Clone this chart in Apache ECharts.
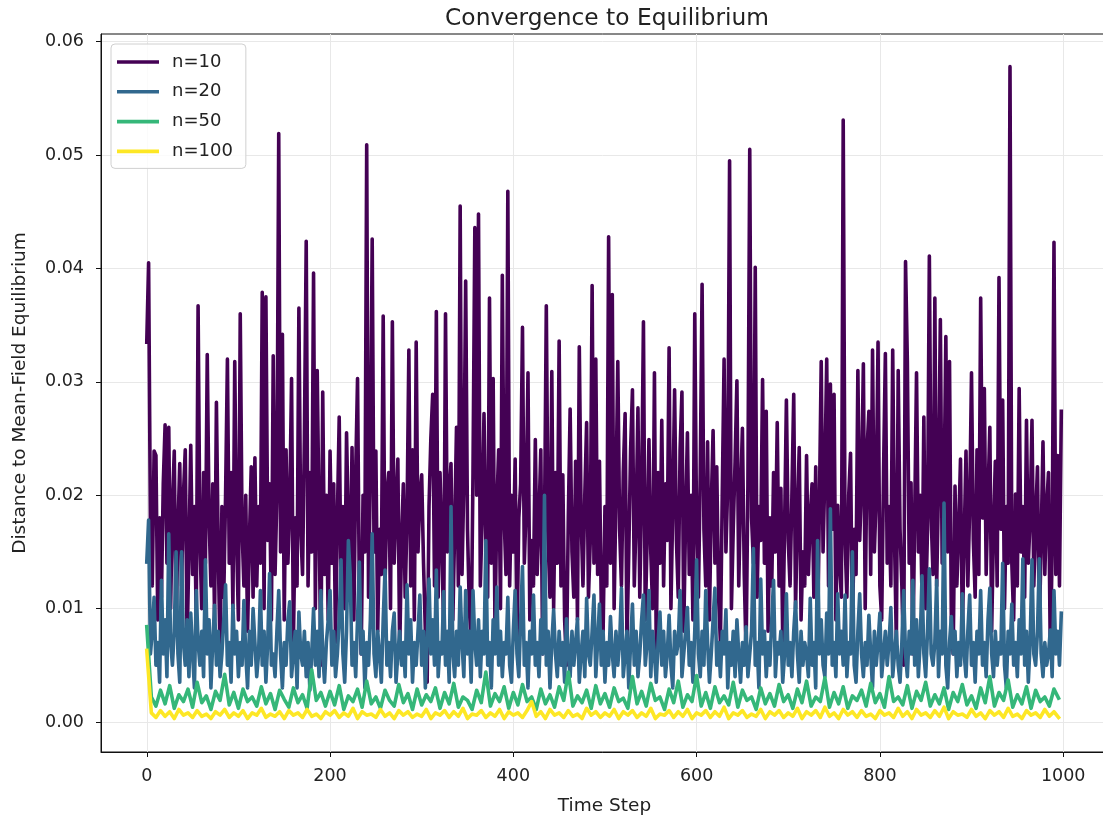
<!DOCTYPE html>
<html>
<head>
<meta charset="utf-8">
<title>Convergence to Equilibrium</title>
<script src="https://cdn.jsdelivr.net/npm/echarts@6/dist/echarts.min.js"></script>
<style>
  html, body { margin: 0; padding: 0; background: #fff; }
  #chart { width: 1103px; height: 817px; }
</style>
</head>
<body>
<div id="chart"></div>
<script>
// distances are stored in units of 1e-3, the axis labels convert back
const seriesNames = ['n=10', 'n=20', 'n=50', 'n=100']
const seriesColors = ['#440154', '#31688e', '#35b779', '#fde725']

// n=10 and n=20: one value every 2 time steps (0, 2, ..., 998), 25 per row = 50 steps
const n10 = [
  33.5, 40.5, 17, 12, 23.9, 23.5, 9, 18, 11, 21, 26.2, 14, 26, 10, 19, 23.9, 8, 17, 22.8, 12, 20, 24, 7, 15, 24.4,
  13, 19, 9, 36.7, 16, 10, 22, 14, 32.4, 18, 12, 21, 9, 28.2, 15, 6, 19, 11, 20, 32, 14, 22, 10, 31.8, 16,
  9, 36, 17, 12, 20, 8, 16, 22.5, 11, 23.3, 12, 19, 14, 37.9, 10, 37.5, 16, 21, 9, 32.3, 13, 20, 51.9, 15, 34.2,
  9, 24, 14, 19, 30.3, 7, 18, 12, 36.5, 17, 13, 25, 42.4, 12, 22, 15, 39.6, 10, 31, 18, 5, 29.1, 13, 20, 9,
  23.9, 14, 21, 7, 18, 26.9, 12, 19, 10, 25.5, 17, 13, 24.2, 9, 22, 30.3, 11, 6, 20, 15, 50.9, 11, 22, 42.6, 15,
  23.9, 8, 17, 13, 35.8, 12, 20, 22, 10, 35.3, 14, 19, 23.2, 6, 16, 21, 11, 18, 32.8, 12, 24, 9, 33.5, 15, 20,
  21.8, 14, 8, 3.5, 19, 25, 28.9, 12, 36.2, 11, 22, 16, 8, 36, 15, 20, 22.8, 9, 17, 26, 12, 45.5, 13, 21, 38.9,
  17, 10, 7, 22, 43.6, 20, 44.8, 12, 18, 27.2, 16, 11, 37.4, 14, 30.3, 8, 19, 24, 10, 39.4, 18, 13, 46.8, 12, 20,
  15, 23.2, 7, 18, 21, 34.8, 14, 19, 30.8, 9, 16, 12, 24.9, 13, 18, 24, 6, 17, 36.7, 16, 11, 30.9, 10, 22, 14,
  33.6, 12, 21.8, 9, 5, 18, 27.6, 15, 11, 23, 9, 33.1, 18, 12, 20, 26.4, 11, 16, 38.5, 14, 32, 13, 23, 10, 8,
  19, 12, 42.8, 14, 37.7, 10, 20, 31.8, 17, 12, 22, 27.2, 7, 15, 24, 29.3, 12, 18, 27.7, 11, 20, 35.3, 9, 16, 24.9,
  15, 10, 30.8, 6, 22, 14, 26.6, 12, 21, 16, 33, 10, 19, 29.3, 16, 11, 24, 29.1, 8, 18, 25.5, 13, 20, 9, 36,
  17, 11, 22, 38.6, 17, 12, 24.7, 9, 19, 25.7, 14, 22.5, 11, 7, 20, 32, 15, 21, 49.5, 10, 17, 23, 30.1, 12, 20,
  25.9, 13, 6, 21, 50.5, 18, 14, 40.1, 11, 19, 16, 30.2, 14, 27.4, 8, 18, 12, 22, 15, 26.4, 12, 20.6, 7, 17, 28.4,
  16, 12, 20, 28.9, 10, 18, 24.2, 9, 15, 12, 23.5, 13, 18, 21, 11, 22.5, 7, 19, 31.8, 15, 22, 32, 12, 29.8, 17,
  28.9, 9, 19.1, 14, 11, 53.1, 16, 11, 20, 23.7, 8, 17, 13, 31, 16, 21, 31.6, 10, 24, 27.4, 13, 32.8, 15, 20, 33.5,
  12, 9, 22, 32.5, 14, 19, 12, 32.8, 16, 7, 31, 17, 12, 5, 40.6, 31.8, 14, 21.1, 6, 18, 30.8, 15, 20, 11, 26.9,
  10, 17, 41.1, 18, 13, 37.4, 12, 21, 35.5, 14, 20, 34, 15, 31.8, 9, 6, 20.8, 12, 17, 23.2, 8, 16, 23.9, 12, 19,
  30.8, 16, 11, 24, 13, 37.4, 18, 29.4, 13, 20, 26, 8, 17, 23, 12, 39.2, 17, 28.4, 10, 19, 14, 57.8, 14, 9, 20.1,
  12, 29.4, 15, 19, 11, 26.6, 14, 18, 26.6, 12, 18, 22.5, 8, 16, 24.7, 13, 19, 22, 6, 15, 42.3, 13, 23.5, 12, 27.4
]

const n20 = [
  14.1, 17.8, 6, 8, 11, 5, 7, 3.5, 12.5, 6, 9, 4, 16.6, 7, 5, 8, 15, 6, 3.5, 15, 7, 5, 9, 4, 9.6,
  6, 3, 11.6, 7, 5, 8, 4, 14.3, 6, 9, 3, 7, 10.3, 5, 8, 4, 6, 9, 12.1, 5, 7, 3.5, 10.3, 6, 8,
  4, 7, 5, 10.7, 6, 3, 8, 5, 10, 7, 4, 6, 11.6, 5, 8, 3.5, 7, 13.1, 5, 6, 4, 8, 11.6, 6, 3,
  7, 5, 9, 10.6, 4, 6, 8, 3, 9.7, 6, 5, 8, 4, 7, 2.8, 6, 10, 5, 8, 4, 11.6, 6, 3.5, 7, 9,
  11.6, 5, 8, 4, 6, 9, 14.3, 6, 3.5, 8, 16, 13, 5, 7, 4, 9, 14.1, 6, 8, 3, 7, 5, 9, 16.6, 6,
  4, 8, 6, 3.5, 9, 13.4, 5, 7, 4, 8, 9.6, 3.5, 6, 8, 5, 7, 4, 12.1, 6, 9, 3.5, 7, 5, 8, 11.2,
  5, 8, 3, 7, 12.6, 6, 9, 5, 13.4, 4, 7, 6, 11.5, 5, 8, 3.5, 19, 6, 4, 8, 5, 11.9, 7, 4, 11.6,
  6, 8, 3.5, 11.6, 7, 5, 9, 4, 8, 6, 16, 5, 7, 3, 9, 6, 11.9, 5, 8, 4, 7, 6, 11, 5, 3.5,
  8, 11.6, 6, 4, 9, 13.7, 5, 7, 3, 8, 6, 11.2, 5, 7, 4, 9, 6, 20, 5, 8, 3, 7, 9.9, 6, 4,
  8, 5, 7, 3.5, 9.1, 6, 4, 8, 5, 7, 9.1, 3.5, 6, 8, 4, 10.9, 6, 5, 8, 11.2, 4, 7, 10.4, 5, 8,
  3.5, 7, 5, 9.3, 6, 4, 8, 5, 7, 11.8, 4, 6, 8, 3, 7, 10.4, 5, 8, 4, 6, 9, 11.2, 5, 7, 11.6,
  4, 8, 6, 3.5, 7, 9.7, 5, 8, 4, 6, 9.4, 5, 3, 8, 6, 7, 11.6, 4, 6, 8, 10.1, 5, 7, 3.5, 8,
  14.3, 6, 4, 8, 5, 11.6, 7, 3.5, 6, 9, 11.8, 5, 7, 4, 8, 6, 9.9, 3, 7, 5, 8, 4, 9, 6, 3.5,
  7, 5, 8.4, 4, 6, 8, 15.3, 5, 7, 3, 12.6, 6, 8, 4, 7, 5, 9, 12.5, 4, 7, 6, 8, 3.5, 6, 11.3,
  5, 7, 4, 8, 10.6, 6, 3.5, 8, 5, 7, 6, 4, 10.9, 5, 7, 3, 16, 6, 9, 5, 4, 9.6, 6, 18.8, 5,
  7, 4, 11.3, 6, 8, 5, 11.2, 4, 7, 6, 15, 5, 3.5, 8, 11.3, 6, 4, 7, 5, 9.4, 6, 3, 8, 5, 7,
  9.6, 4, 6, 8, 5, 7, 10.1, 4, 6, 8, 5, 3.5, 7, 11.6, 6, 4, 8, 6, 12.5, 5, 9, 4, 7, 12.9, 6,
  4, 8, 13.5, 6, 5, 7, 12.5, 4, 8, 6, 19.3, 5, 3, 7, 9.3, 6, 8, 4, 7, 5, 11.3, 6, 4, 8, 11.2,
  5, 7, 3.5, 8, 6, 11.6, 5, 7, 4, 9, 11.8, 6, 4, 8, 5, 7, 6, 14, 5, 3, 8, 6, 10.4, 5, 7,
  4, 9, 6, 14.4, 5, 8, 3.5, 7, 14.3, 6, 5, 8, 14.4, 6, 4, 7, 5, 6, 8.1, 4, 11.6, 6, 8, 5, 9.6
]

// n=50 and n=100: one value every 5 time steps (0, 5, ..., 995)
const n50 = [
  8.4, 2.2, 1.4, 2.8, 1.6, 3.2, 1.2, 2.4, 1.8, 2.9, 1.3, 3.5, 1.7, 2.3, 1.1, 2.7, 1.9, 4.2, 1.5, 2.6,
  1.2, 2.9, 1.8, 2.2, 1.4, 3.1, 1.6, 2.5, 1.1, 2.8, 2.0, 1.3, 3.0, 1.7, 2.4, 1.2, 4.6, 1.9, 2.6, 1.4,
  2.7, 1.5, 3.2, 1.1, 2.3, 1.8, 2.9, 1.3, 3.6, 1.6, 2.2, 1.2, 2.8, 1.9, 1.4, 3.3, 1.7, 2.5, 1.1, 2.9,
  1.5, 2.4, 1.8, 3.0, 1.2, 2.6, 1.6, 3.4, 1.3, 2.2, 1.9, 1.1, 2.8, 1.7, 4.4, 1.4, 2.5, 1.8, 3.1, 1.2,
  2.6, 1.5, 3.3, 1.8, 2.2, 1.1, 2.9, 1.6, 2.4, 1.3, 3.1, 1.9, 4.4, 1.4, 2.3, 1.7, 2.8, 1.2, 3.2, 1.6,
  2.5, 1.3, 3.0, 1.8, 2.1, 1.2, 4.0, 1.6, 2.7, 1.4, 3.4, 1.9, 2.2, 1.1, 2.9, 1.7, 3.6, 1.3, 2.4, 1.8,
  4.1, 1.4, 2.6, 1.2, 3.1, 1.7, 2.3, 1.5, 3.5, 1.3, 2.8, 1.9, 2.2, 1.1, 3.0, 1.6, 2.5, 1.4, 3.3, 1.8,
  2.4, 1.2, 2.9, 1.7, 3.6, 1.4, 2.2, 1.8, 3.9, 1.3, 2.6, 1.6, 3.1, 1.2, 2.3, 1.9, 2.8, 1.4, 3.4, 1.7,
  2.5, 1.3, 4.0, 1.8, 2.2, 1.5, 3.2, 1.2, 2.7, 1.9, 3.5, 1.4, 2.4, 1.6, 3.0, 1.1, 2.6, 1.8, 3.3, 1.5,
  2.3, 1.2, 3.0, 1.7, 4.0, 1.4, 2.6, 1.9, 3.7, 1.3, 2.4, 1.6, 3.1, 1.2, 2.8, 1.8, 2.2, 1.4, 2.9, 2.1
]

const n100 = [
  6.3, 0.8, 0.4, 1.0, 0.5, 0.9, 0.3, 1.1, 0.6, 0.8, 0.4, 1.0, 0.5, 0.7, 0.3, 0.9, 0.6, 1.1, 0.4, 0.8,
  0.5, 1.0, 0.3, 0.8, 0.6, 1.2, 0.4, 0.7, 0.5, 0.9, 0.3, 1.0, 0.6, 0.8, 0.4, 1.1, 0.5, 0.7, 0.3, 0.9,
  0.6, 1.0, 0.4, 0.8, 0.5, 1.2, 0.3, 0.9, 0.6, 0.7, 0.4, 1.1, 0.5, 0.8, 0.3, 1.0, 0.6, 0.9, 0.4, 0.7,
  0.5, 1.1, 0.3, 0.8, 0.6, 1.0, 0.4, 0.9, 0.5, 1.2, 0.3, 0.7, 0.6, 1.0, 0.4, 0.8, 0.5, 1.1, 0.3, 0.9,
  0.6, 0.8, 0.4, 1.0, 1.8, 0.5, 0.9, 0.3, 1.1, 0.6, 0.8, 0.4, 1.0, 0.5, 0.7, 0.3, 1.2, 0.6, 0.9, 0.4,
  0.8, 0.5, 1.1, 0.3, 0.9, 0.6, 1.0, 0.4, 0.8, 0.5, 1.2, 0.3, 0.7, 0.6, 1.0, 0.4, 0.9, 0.5, 1.1, 0.3,
  0.8, 0.6, 1.0, 0.4, 0.9, 0.5, 1.3, 0.3, 0.8, 0.6, 1.0, 0.4, 0.7, 0.5, 1.1, 0.3, 0.9, 0.6, 1.0, 0.4,
  0.8, 0.5, 1.2, 0.3, 0.9, 0.6, 1.0, 0.4, 1.3, 0.5, 0.8, 0.3, 1.1, 0.6, 0.9, 0.4, 1.0, 0.5, 0.7, 0.3,
  1.0, 0.6, 0.8, 0.4, 1.2, 0.5, 0.9, 0.3, 1.1, 0.6, 0.8, 0.4, 1.0, 0.5, 1.3, 0.3, 0.9, 0.6, 0.7, 0.4,
  1.1, 0.5, 0.8, 0.3, 1.0, 0.6, 0.9, 0.4, 1.2, 0.5, 0.7, 0.3, 1.0, 0.6, 0.8, 0.4, 1.1, 0.5, 0.9, 0.4
]

const xTicks = [0, 200, 400, 600, 800, 1000]
const yTicks = [0, 10, 20, 30, 40, 50, 60]

const font = 'DejaVu Sans'
const textColor = '#222'
const lineWidth = 3.6

// pair each value with its time step
function toPoints(values, every) {
  return values.map((v, i) => [i * every, v])
}

const seriesData = [toPoints(n10, 2), toPoints(n20, 2), toPoints(n50, 5), toPoints(n100, 5)]

const chart = echarts.init(document.getElementById('chart'), null, { renderer: 'canvas' })

chart.setOption({
  animation: false,
  backgroundColor: '#fff',
  title: {
    text: 'Convergence to Equilibrium',
    left: 602,
    top: 2,
    textAlign: 'center',
    textStyle: { fontFamily: font, fontSize: 23.3, fontWeight: 'normal', color: textColor },
  },
  // the plot runs a few pixels past the right edge of the picture
  grid: {
    left: 101,
    top: 34,
    width: 1007,
    height: 718,
    outerBoundsMode: 'none',
    containLabel: false,
    show: true,
    borderColor: '#111',
    borderWidth: 1,
    backgroundColor: 'transparent',
  },
  legend: {
    orient: 'vertical',
    left: 111,
    top: 44,
    padding: [8, 13, 7, 6],
    itemWidth: 42,
    itemHeight: 14,
    itemGap: 9.8,
    symbolKeepAspect: true,
    borderColor: '#d0d0d0',
    borderWidth: 1,
    borderRadius: 4,
    backgroundColor: 'rgba(255,255,255,0.8)',
    textStyle: {
      fontFamily: font,
      fontSize: 18,
      color: textColor,
      lineHeight: 20,
      padding: [0, 0, 0, 8],
    },
    data: seriesNames.map((name) => ({ name: name, icon: 'path://M0,0 L42,0 L42,3.6 L0,3.6 Z' })),
  },
  xAxis: {
    type: 'value',
    min: -49.95,
    max: 1048.95,
    name: 'Time Step',
    nameLocation: 'middle',
    nameGap: 45,
    nameTextStyle: { fontFamily: font, fontSize: 18.5, color: textColor },
    axisLine: { onZero: false, lineStyle: { color: '#111', width: 1 } },
    axisTick: { show: true, length: 5, customValues: xTicks, lineStyle: { color: '#111' } },
    axisLabel: {
      customValues: xTicks,
      margin: 15,
      fontFamily: font,
      fontSize: 17.5,
      color: textColor,
      formatter: (v) => (xTicks.includes(Math.round(v)) && Math.abs(v - Math.round(v)) < 1e-6 ? String(Math.round(v)) : ''),
    },
    splitLine: { show: true, lineStyle: { color: '#e8e8e8', width: 1 } },
  },
  yAxis: {
    type: 'value',
    min: -2.65,
    max: 60.68,
    name: 'Distance to Mean-Field Equilibrium',
    nameLocation: 'middle',
    nameRotate: 90,
    nameGap: 71,
    nameTextStyle: { fontFamily: font, fontSize: 18.5, color: textColor },
    axisLine: { show: true, onZero: false, lineStyle: { color: '#111', width: 1 } },
    axisTick: { show: true, length: 5, customValues: yTicks, lineStyle: { color: '#111' } },
    axisLabel: {
      customValues: yTicks,
      margin: 17,
      fontFamily: font,
      fontSize: 17.5,
      color: textColor,
      formatter: (v) => (Math.abs(v - Math.round(v / 10) * 10) < 1e-6 ? (v / 1000).toFixed(2) : ''),
    },
    splitLine: { show: true, lineStyle: { color: '#e8e8e8', width: 1 } },
  },
  series: seriesNames.map((name, k) => ({
    name: name,
    type: 'line',
    data: seriesData[k],
    symbol: 'none',
    showSymbol: false,
    color: seriesColors[k],
    lineStyle: { color: seriesColors[k], width: lineWidth, join: 'round', cap: 'square' },
    emphasis: { disabled: true },
  })),
})
</script>
</body>
</html>
